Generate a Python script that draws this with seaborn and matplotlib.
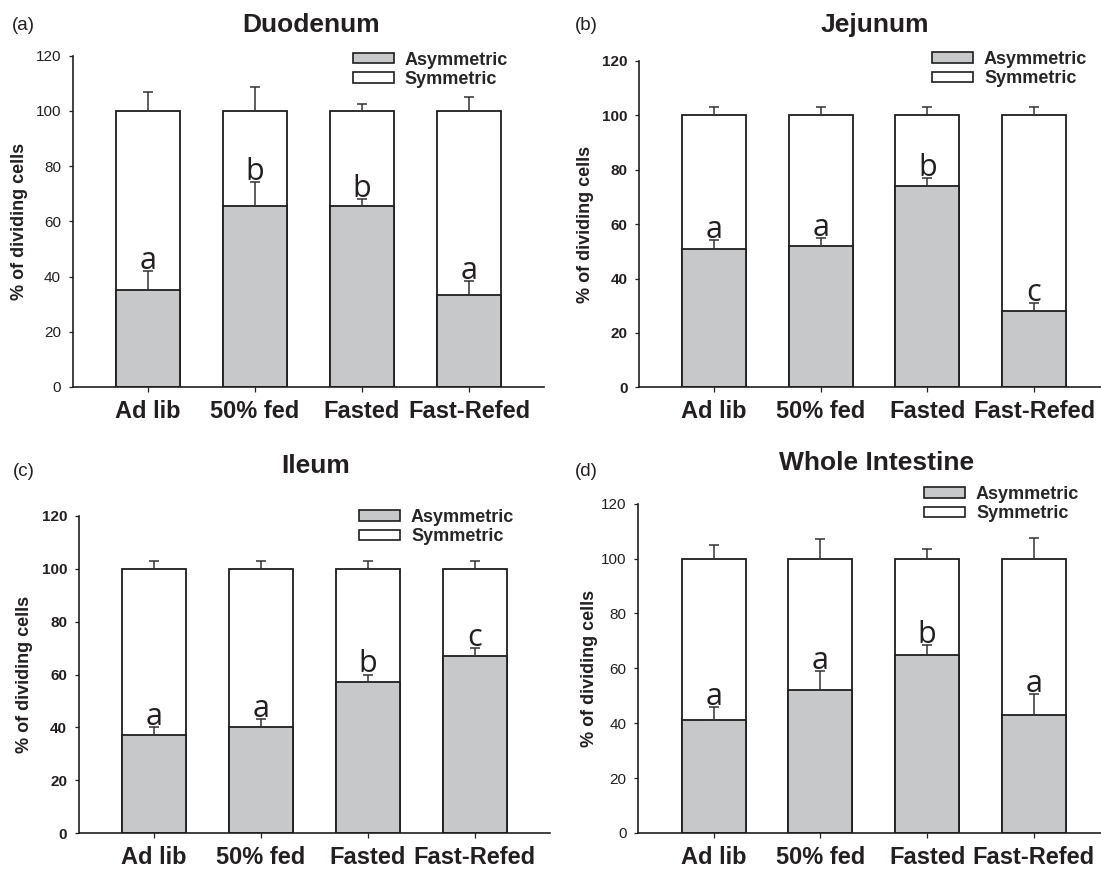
import matplotlib
matplotlib.use("Agg")
import matplotlib.pyplot as plt
import seaborn as sns
import numpy as np
import pandas as pd
from matplotlib.patches import Patch

# ---------------- data ----------------
categories = ["Ad lib", "50% fed", "Fasted", "Fast-Refed"]
total = [100, 100, 100, 100]

duo_asym = [35, 65.5, 65.5, 33.4]
duo_asym_err = [7, 8.6, 2.6, 5]
duo_sym_err = [7, 8.6, 2.6, 5]
duo_letters = ["a", "b", "b", "a"]

jej_asym = [51, 52, 74, 28]
jej_asym_err = [3, 3, 3, 3]
jej_sym_err = [3.2, 3.2, 3.2, 3.2]
jej_letters = ["a", "a", "b", "c"]

ile_asym = [37, 40, 57, 67]
ile_asym_err = [3, 3, 3, 3]
ile_sym_err = [3, 3, 3, 3]
ile_letters = ["a", "a", "b", "c"]

whole_asym = [41, 52, 65, 43]
whole_asym_err = [5, 7, 3.6, 7.5]
whole_sym_err = [5, 7, 3.6, 7.5]
whole_letters = ["a", "a", "b", "a"]

titles = ["Duodenum", "Jejunum", "Ileum", "Whole Intestine"]
panel_tags = ["(a)", "(b)", "(c)", "(d)"]
legend_labels = ["Asymmetric", "Symmetric"]
ylabel = "% of dividing cells"
yticks = [0, 20, 40, 60, 80, 100, 120]

# ---------------- style ----------------
sns.set_style("ticks")
plt.rcParams["font.family"] = ["Liberation Sans", "DejaVu Sans"]

GRAY = "#c7c8ca"
EDGE = "#1e1e1e"
INK = "#231f20"

W, H = 1101, 869
fig = plt.figure(figsize=(W / 100, H / 100), dpi=100)


def px_rect(left, right, top, bottom):
    return [left / W, 1 - bottom / H, (right - left) / W, (bottom - top) / H]


def fx(x):
    return x / W


def fy(y):
    return 1 - y / H


panels = [
    dict(asym=duo_asym, aerr=duo_asym_err, serr=duo_sym_err, letters=duo_letters,
         rect=(72.7, 544, 55.7, 387), xlim=(-0.70, 3.70), bold_y=False,
         title_xy=(311, 25), tag_xy=(23.5, 25), ylab_x=20,
         leg_xy=(352.7, 69.8)),
    dict(asym=jej_asym, aerr=jej_asym_err, serr=jej_sym_err, letters=jej_letters,
         rect=(639.3, 1101, 61, 387.3), xlim=(-0.70, 3.627), bold_y=True,
         title_xy=(875, 25), tag_xy=(586, 25), ylab_x=585,
         leg_xy=(932, 69)),
    dict(asym=ile_asym, aerr=ile_asym_err, serr=ile_sym_err, letters=ile_letters,
         rect=(79, 549.8, 515.7, 833.3), xlim=(-0.70, 3.70), bold_y=True,
         title_xy=(316, 466), tag_xy=(24, 472), ylab_x=25,
         leg_xy=(359, 527)),
    dict(asym=whole_asym, aerr=whole_asym_err, serr=whole_sym_err, letters=whole_letters,
         rect=(638.3, 1101, 503.7, 833), xlim=(-0.707, 3.63), bold_y=False,
         title_xy=(877, 463), tag_xy=(586, 472), ylab_x=589,
         leg_xy=(924, 504)),
]

for k, p in enumerate(panels):
    l, r, t, b = p["rect"]
    ax = fig.add_axes(px_rect(l, r, t, b))
    df = pd.DataFrame({"group": categories, "total": total, "asym": p["asym"]})

    sns.barplot(data=df, x="group", y="total", color="white", edgecolor=EDGE,
                linewidth=1.3, width=0.6, errorbar=None, saturation=1, ax=ax, zorder=1)
    sns.barplot(data=df, x="group", y="asym", color=GRAY, edgecolor=EDGE,
                linewidth=1.3, width=0.6, errorbar=None, saturation=1, ax=ax, zorder=1.5)

    xs = np.arange(len(categories))
    zeros = np.zeros(len(categories))
    ax.errorbar(xs, total, yerr=[zeros, p["serr"]], fmt="none", ecolor="#333333",
                elinewidth=1.1, capsize=3.6, capthick=1.1, zorder=3)
    ax.errorbar(xs, p["asym"], yerr=[zeros, p["aerr"]], fmt="none", ecolor="#333333",
                elinewidth=1.1, capsize=3.6, capthick=1.1, zorder=3)

    for i, (v, e, let) in enumerate(zip(p["asym"], p["aerr"], p["letters"])):
        ax.annotate(let, xy=(i, v + e), xytext=(0, 1.5), textcoords="offset points",
                    ha="center", va="baseline", fontsize=22, family="Open Sans",
                    color=INK, zorder=4)

    ax.set_xlim(*p["xlim"])
    ax.set_ylim(0, 120)
    ax.set_yticks(yticks)
    ax.set_xlabel("")
    ax.set_ylabel("")
    sns.despine(ax=ax)
    for s in ("left", "bottom"):
        ax.spines[s].set_linewidth(1.2)
        ax.spines[s].set_color(INK)
    ax.tick_params(axis="y", direction="out", length=3.2, width=0.9, pad=5.3,
                   labelsize=11, colors=INK)
    ax.tick_params(axis="x", direction="out", length=3.6, width=0.9, pad=5.4,
                   labelsize=17, colors=INK)
    for lbl in ax.get_xticklabels():
        lbl.set_fontweight("bold")
    if p["bold_y"]:
        for lbl in ax.get_yticklabels():
            lbl.set_fontweight("bold")

    # title, tag, ylabel
    tx, ty = p["title_xy"]
    fig.text(fx(tx), fy(ty), titles[k], ha="center", va="center",
             fontsize=19, fontweight="bold", color=INK)
    gx, gy = p["tag_xy"]
    fig.text(fx(gx), fy(gy), panel_tags[k], ha="center", va="center",
             fontsize=13.5, color=INK)
    fig.text(fx(p["ylab_x"]), fy((t + b) / 2), ylabel, rotation=90,
             ha="center", va="center", fontsize=13, fontweight="bold", color=INK)

    handles = [Patch(facecolor=GRAY, edgecolor=EDGE, linewidth=1.2),
               Patch(facecolor="white", edgecolor=EDGE, linewidth=1.2)]
    lx, ly = p["leg_xy"]
    fig.legend(handles, legend_labels, loc="center left",
               bbox_to_anchor=(fx(lx), fy(ly)), frameon=False, borderpad=0,
               borderaxespad=0, handlelength=2.28, handleheight=0.5,
               handletextpad=0.6, labelspacing=0.13,
               prop={"weight": "bold", "size": 13, "family": "Liberation Sans"})

fig.savefig("out.png", dpi=100)
